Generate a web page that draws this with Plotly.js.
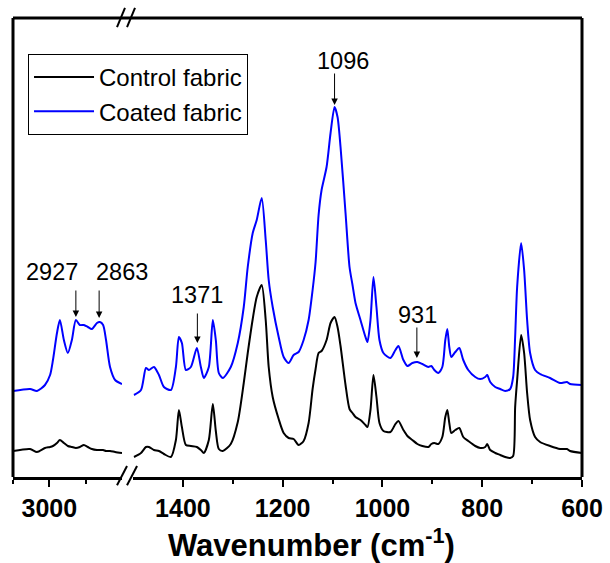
<!DOCTYPE html>
<html>
<head>
<meta charset="utf-8">
<script src="https://cdn.plot.ly/plotly-3.0.1.min.js"></script>
<style>html,body{margin:0;padding:0;background:#fff;}#chart{width:610px;height:563px;}</style>
</head>
<body>
<div id="chart"></div>
<script>
// High-wavenumber segment (3100-2800 cm-1)
const wnHigh = [3100,3053,3034,3012,2998,2990,2979,2971,2960,2949,2938,2927,2916,2905,2894,2883,2869,2861,2852,2844,2833,2819,2800];
const controlHigh = [26,28,25,29,30,31,34,37,34,31,30,29,30,32,30,28,27,27,27,26,26,25,24];
const coatedHigh = [86,88,86,92,102,117,144,157,137,124,137,157,152,152,150,148,154,155,152,137,110,97,93];

// Low-wavenumber segment (1500-600 cm-1)
const wnLow = [1498,1484,1474,1468,1458,1448,1438,1424,1414,1408,1402,1394,1384,1372,1364,1358,1348,1340,1334,1328,1320,1304,1290,1278,1270,1260,1252,1242,1234,1228,1220,1208,1198,1188,1178,1168,1158,1148,1140,1134,1128,1122,1112,1104,1096,1090,1084,1074,1066,1060,1054,1044,1034,1030,1024,1018,1012,1006,998,984,974,968,958,950,940,930,920,908,902,896,888,880,874,870,866,862,854,846,838,828,814,804,794,790,784,774,764,754,744,738,734,730,722,716,710,704,694,684,664,644,630,624,600];
const controlLow = [20,24,30,30,27,26,23,20,37,67,50,32,31,30,27,24,37,73,46,28,26,33,55,94,124,158,180,192,157,110,80,58,44,39,38,32,36,54,88,108,124,126,137,154,160,150,131,92,68,64,60,57,52,50,67,102,80,54,46,45,53,56,47,41,37,33,31,30,33,34,33,40,60,67,54,44,47,49,40,36,31,29,30,33,27,24,22,20,19,21,70,97,142,124,84,57,40,35,31,28,28,26,24];
const coatedLow = [82,87,109,107,110,102,90,87,110,140,134,107,110,129,110,99,110,157,137,104,99,110,134,170,210,244,257,279,237,197,170,140,120,114,122,125,137,157,187,215,262,287,310,344,370,360,330,264,210,192,174,157,140,135,157,200,170,137,124,119,127,131,117,111,114,115,113,110,111,107,104,110,137,148,130,120,125,129,117,107,100,98,100,102,95,90,88,86,88,100,140,190,234,207,157,124,107,103,99,94,95,93,92];

// Tick labels
const highMajor = [3000], highMinor = [3100, 2900];
const lowMajor = [1400, 1200, 1000, 800, 600], lowMinor = [1300, 1100, 900, 700];

// Annotated bands
const bandLabels = ['2927', '2863', '1371', '1096', '931'];
const bandWn = [2927, 2863, 1371, 1096, 931];
const bandAxis = ['x', 'x', 'x2', 'x2', 'x2'];
const bandPeak = [160, 159, 134, 372, 119];
const bandLabelX = [2993, 2800, 1372, 1080, 930];
const bandLabelY = [205, 205, 182, 416, 162];
const arrowLen = [-28, -29, -31, -33, -32];

const FONT = 'Liberation Sans, Arial, sans-serif';
const BLACK = '#000000', BLUE = '#0000ff';

const traces = [
  {x: wnLow, y: controlLow, xaxis: 'x2', yaxis: 'y', type: 'scatter', mode: 'lines', name: 'Control fabric', legendgroup: 'c',
   line: {color: BLACK, width: 2, shape: 'spline', smoothing: 0.7}},
  {x: wnLow, y: coatedLow, xaxis: 'x2', yaxis: 'y', type: 'scatter', mode: 'lines', name: 'Coated fabric', legendgroup: 'b',
   line: {color: BLUE, width: 2, shape: 'spline', smoothing: 0.7}},
  {x: wnHigh, y: controlHigh, xaxis: 'x', yaxis: 'y', type: 'scatter', mode: 'lines', name: 'Control fabric', legendgroup: 'c', showlegend: false,
   line: {color: BLACK, width: 2, shape: 'spline', smoothing: 0.7}},
  {x: wnHigh, y: coatedHigh, xaxis: 'x', yaxis: 'y', type: 'scatter', mode: 'lines', name: 'Coated fabric', legendgroup: 'b', showlegend: false,
   line: {color: BLUE, width: 2, shape: 'spline', smoothing: 0.7}}
];

const annotations = [];
for (let i = 0; i < bandLabels.length; i++) {
  annotations.push({x: bandWn[i], y: bandPeak[i], xref: bandAxis[i], yref: 'y', text: '', showarrow: true,
    ax: 0, ay: arrowLen[i], arrowhead: 2, arrowsize: 1.3, arrowwidth: 1, arrowcolor: BLACK, standoff: 0});
  annotations.push({x: bandLabelX[i], y: bandLabelY[i], xref: bandAxis[i], yref: 'y', text: bandLabels[i], showarrow: false,
    xanchor: 'center', yanchor: 'middle', font: {family: FONT, size: 23.5, color: BLACK}});
}
annotations.push({x: 0.525, y: -0.143, xref: 'paper', yref: 'paper', text: 'Wavenumber (cm<sup>-1</sup>)', showarrow: false,
  xanchor: 'center', yanchor: 'middle', font: {family: FONT, size: 31, color: BLACK, weight: 'bold'}});

const axisCommon = {showline: true, linewidth: 3, linecolor: BLACK, ticks: 'outside', ticklen: 7, tickwidth: 2, tickcolor: BLACK,
  showgrid: false, zeroline: false, tickfont: {family: FONT, size: 25, color: BLACK, weight: 'bold'}, tickmode: 'array', anchor: 'y'};

const frame = {type: 'line', xref: 'paper', yref: 'paper', line: {color: BLACK, width: 3}};
const slash = {type: 'line', xref: 'paper', yref: 'paper', line: {color: BLACK, width: 2}};

const layout = {
  width: 610, height: 563,
  margin: {l: 13, r: 28, t: 18, b: 86},
  paper_bgcolor: '#ffffff', plot_bgcolor: '#ffffff',
  showlegend: true,
  legend: {x: 0.0264, y: 0.9216, xanchor: 'left', yanchor: 'top', bordercolor: BLACK, borderwidth: 1, bgcolor: '#ffffff',
    font: {family: FONT, size: 24, color: BLACK}, tracegroupgap: 0, itemwidth: 60},
  xaxis: Object.assign({}, axisCommon, {domain: [0, 0.1916], range: [3100, 2800], tickvals: highMajor,
    minor: {tickvals: highMinor, ticks: 'outside', ticklen: 4, tickwidth: 2, tickcolor: BLACK}}),
  xaxis2: Object.assign({}, axisCommon, {domain: [0.2109, 1], range: [1500, 600], tickvals: lowMajor,
    minor: {tickvals: lowMinor, ticks: 'outside', ticklen: 4, tickwidth: 2, tickcolor: BLACK}}),
  yaxis: {range: [0, 459], visible: false, fixedrange: true},
  annotations: annotations,
  shapes: [
    Object.assign({}, frame, {x0: 0, x1: 0, y0: 0, y1: 1}),
    Object.assign({}, frame, {x0: 1, x1: 1, y0: 0, y1: 1}),
    Object.assign({}, frame, {x0: 0, x1: 1, y0: 1, y1: 1}),
    Object.assign({}, slash, {x0: 0.1828, x1: 0.2004, y0: -0.018, y1: 0.024}),
    Object.assign({}, slash, {x0: 0.2004, x1: 0.2180, y0: -0.018, y1: 0.024}),
    Object.assign({}, slash, {x0: 0.1828, x1: 0.1968, y0: 0.980, y1: 1.022}),
    Object.assign({}, slash, {x0: 0.2004, x1: 0.2144, y0: 0.980, y1: 1.022})
  ]
};

Plotly.newPlot('chart', traces, layout, {staticPlot: true, displayModeBar: false});
</script>
</body>
</html>
